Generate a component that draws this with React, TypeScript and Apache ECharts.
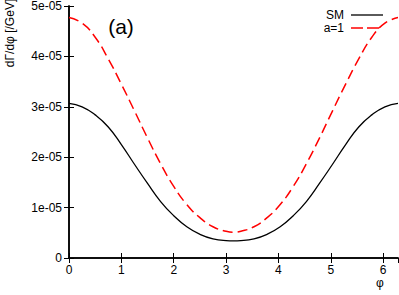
import React, { useEffect, useRef } from "react";
import * as echarts from "echarts";

const phi = [
  0, 0.25, 0.5, 0.75, 1.0, 1.25, 1.5, 1.75, 2.0, 2.25, 2.5, 2.75, 3.0, 3.1416,
  3.2832, 3.5332, 3.7832, 4.0332, 4.2832, 4.5332, 4.7832, 5.0332, 5.2832, 5.5332, 5.7832, 6.0332, 6.2832,
];
const smValues = [
  3.07e-5, 3.0e-5, 2.84e-5, 2.6e-5, 2.25e-5, 1.86e-5, 1.48e-5, 1.12e-5, 0.84e-5, 0.62e-5, 0.47e-5, 0.38e-5, 0.345e-5, 0.34e-5,
  0.345e-5, 0.38e-5, 0.47e-5, 0.62e-5, 0.84e-5, 1.12e-5, 1.48e-5, 1.86e-5, 2.25e-5, 2.6e-5, 2.84e-5, 3.0e-5, 3.07e-5,
];
const a1Values = [
  4.77e-5, 4.66e-5, 4.38e-5, 3.95e-5, 3.45e-5, 2.92e-5, 2.38e-5, 1.87e-5, 1.42e-5, 1.06e-5, 0.8e-5, 0.62e-5, 0.53e-5, 0.51e-5,
  0.53e-5, 0.62e-5, 0.8e-5, 1.06e-5, 1.42e-5, 1.87e-5, 2.38e-5, 2.92e-5, 3.45e-5, 3.95e-5, 4.38e-5, 4.66e-5, 4.77e-5,
];
const seriesNames = ["SM", "a=1"];
const xTickLabels = ["0", "1", "2", "3", "4", "5", "6"];

const FONT = "'Liberation Sans', Arial, Helvetica, sans-serif";
const FS = 12;

export default function App() {
  const ref = useRef<HTMLDivElement>(null);
  useEffect(() => {
    if (!ref.current) return;
    const chart = echarts.init(ref.current, undefined, { renderer: "svg" });
    const fmtY = (v: number) => {
      if (Math.abs(v) < 1e-12) return "0";
      return v.toExponential(0).replace(/e-(\d)$/, "e-0$1");
    };
    const axisCommon = {
      axisLine: { show: true, lineStyle: { color: "#000", width: 1.5 } },
      axisTick: { show: true, inside: true, length: 5, lineStyle: { color: "#000", width: 1 } },
      splitLine: { show: false },
    };
    chart.setOption({
      animation: false,
      backgroundColor: "#fff",
      textStyle: { fontFamily: FONT },
      grid: { left: 69, right: 1, top: 5, bottom: 37, containLabel: false },
      xAxis: [
        {
          type: "value",
          min: 0,
          max: 6.2832,
          interval: 1,
          position: "bottom",
          ...axisCommon,
          axisLabel: {
            show: true,
            margin: 6,
            fontSize: FS,
            color: "#000",
            fontFamily: FONT,
            showMaxLabel: false,
            formatter: (v: number) => {
              const i = Math.round(v);
              return Math.abs(v - i) < 1e-6 && i < xTickLabels.length ? xTickLabels[i] : "";
            },
          },
        },
        {
          type: "value",
          min: 0,
          max: 6.2832,
          interval: 1,
          position: "top",
          ...axisCommon,
          axisLabel: { show: false },
        },
      ],
      yAxis: [
        {
          type: "value",
          min: 0,
          max: 5e-5,
          interval: 1e-5,
          position: "left",
          ...axisCommon,
          axisLabel: { show: true, margin: 7, fontSize: FS, color: "#000", fontFamily: FONT, formatter: fmtY },
        },
        {
          type: "value",
          min: 0,
          max: 5e-5,
          interval: 1e-5,
          position: "right",
          ...axisCommon,
          axisLabel: { show: false },
        },
      ],
      series: [
        {
          name: seriesNames[0],
          type: "line",
          data: phi.map((p, i) => [p, smValues[i]]),
          smooth: true,
          symbol: "none",
          lineStyle: { color: "#000", width: 1.3 },
          itemStyle: { color: "#000" },
        },
        {
          name: seriesNames[1],
          type: "line",
          data: phi.map((p, i) => [p, a1Values[i]]),
          smooth: true,
          symbol: "none",
          lineStyle: { color: "#ff0000", width: 1.5, type: [10, 5] },
          itemStyle: { color: "#ff0000" },
        },
      ],
      graphic: [
        {
          type: "text",
          x: 121,
          y: 26,
          style: { text: "(a)", font: `21px ${FONT}`, fill: "#000", align: "center", verticalAlign: "middle" },
        },
        {
          type: "text",
          x: 380,
          y: 283,
          style: { text: "φ", font: `${FS}px ${FONT}`, fill: "#000", align: "center", verticalAlign: "middle" },
        },
        {
          type: "text",
          x: 10,
          y: 33,
          rotation: Math.PI / 2,
          style: { text: "dΓ/dφ [/GeV]", font: `${FS}px ${FONT}`, fill: "#000", align: "center", verticalAlign: "middle" },
        },
        {
          type: "text",
          x: 344,
          y: 15,
          style: { text: seriesNames[0], font: `${FS}px ${FONT}`, fill: "#000", align: "right", verticalAlign: "middle" },
        },
        {
          type: "line",
          shape: { x1: 351, y1: 15, x2: 383, y2: 15 },
          style: { stroke: "#000", lineWidth: 1.3 },
        },
        {
          type: "text",
          x: 344,
          y: 28,
          style: { text: seriesNames[1], font: `${FS}px ${FONT}`, fill: "#000", align: "right", verticalAlign: "middle" },
        },
        {
          type: "line",
          shape: { x1: 351, y1: 28, x2: 383, y2: 28 },
          style: { stroke: "#ff0000", lineWidth: 1.5, lineDash: [12, 4] },
        },
      ],
    });
    return () => chart.dispose();
  }, []);
  return <div ref={ref} style={{ width: 399, height: 295, position: "absolute", left: 0, top: 0 }} />;
}
